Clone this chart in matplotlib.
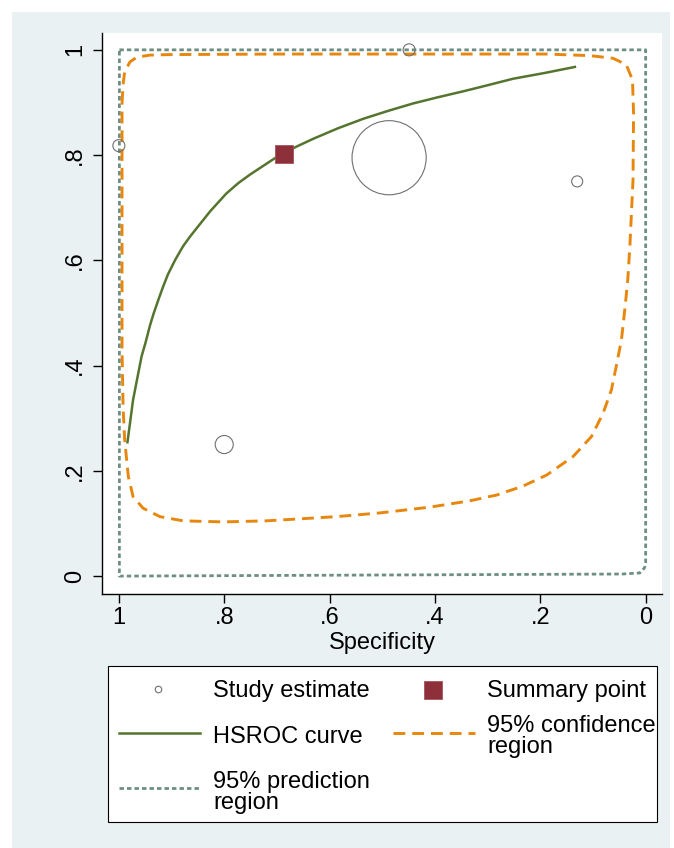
import matplotlib
matplotlib.use("Agg")
import matplotlib.pyplot as plt
from matplotlib.patches import Rectangle
from matplotlib.lines import Line2D

plt.rcParams['font.family'] = ['Liberation Sans', 'DejaVu Sans']
plt.rcParams['lines.scale_dashes'] = False

# ---------------- data ----------------
study_spec = [0.449, 1.000, 0.487, 0.130, 0.800]
study_sens = [1.000, 0.818, 0.795, 0.750, 0.250]
study_weight = [1.0, 1.0, 38.0, 0.84, 2.25]

summary_spec = [0.687]
summary_sens = [0.802]

hsroc_spec = [0.984, 0.973, 0.965, 0.957, 0.949, 0.941, 0.934, 0.925, 0.916,
              0.907, 0.893, 0.878, 0.865, 0.846, 0.826, 0.796, 0.773, 0.751,
              0.701, 0.663, 0.631, 0.584, 0.536, 0.489, 0.442, 0.394, 0.347,
              0.299, 0.252, 0.192, 0.132]
hsroc_sens = [0.252, 0.335, 0.376, 0.417, 0.445, 0.476, 0.499, 0.525, 0.550,
              0.573, 0.601, 0.627, 0.645, 0.669, 0.694, 0.727, 0.747, 0.763,
              0.796, 0.816, 0.831, 0.851, 0.869, 0.884, 0.898, 0.910, 0.921,
              0.933, 0.945, 0.956, 0.968]

conf_spec = [0.994, 0.992, 0.989, 0.979, 0.966, 0.941, 0.903, 0.695, 0.378, 0.188,
             0.106, 0.062, 0.037, 0.025, 0.023, 0.024, 0.027, 0.030, 0.034, 0.039,
             0.046, 0.056, 0.065, 0.081, 0.103, 0.138, 0.188, 0.233, 0.283, 0.334,
             0.410, 0.505, 0.587, 0.720, 0.802, 0.878, 0.922, 0.954, 0.973, 0.982,
             0.989, 0.992, 0.994, 0.994, 0.994, 0.994]
conf_sens = [0.899, 0.934, 0.958, 0.977, 0.986, 0.990, 0.991, 0.992, 0.992, 0.992,
             0.989, 0.984, 0.972, 0.943, 0.880, 0.753, 0.690, 0.626, 0.563, 0.512,
             0.449, 0.398, 0.354, 0.309, 0.265, 0.227, 0.192, 0.171, 0.154, 0.143,
             0.131, 0.120, 0.113, 0.105, 0.103, 0.105, 0.113, 0.129, 0.151, 0.189,
             0.259, 0.322, 0.430, 0.620, 0.810, 0.899]

pred_spec = [0.999, 0.000, 0.000, 0.002, 0.011, 0.044, 0.999, 0.999]
pred_sens = [1.000, 1.000, 0.025, 0.016, 0.006, 0.004, 0.000, 1.000]

tick_values = [1.0, 0.8, 0.6, 0.4, 0.2, 0.0]
tick_labels = ["1", ".8", ".6", ".4", ".2", "0"]

legend_labels = ["Study estimate", "Summary point", "HSROC curve",
                 "95% confidence\nregion", "95% prediction\nregion"]

# ---------------- styles ----------------
W, H = 674, 848
BG = "#EAF1F3"
GREEN = "#55752F"
ORANGE = "#E8870E"
TEAL = "#6E8E84"
CRAN = "#8E3039"
CIRC = "#707070"
FS = 17

fig = plt.figure(figsize=(W / 100, H / 100), dpi=100)
fig.patch.set_facecolor("white")
bg = Rectangle((12 / W, 0), (670 - 12) / W, (848 - 12) / H,
               transform=fig.transFigure, facecolor=BG, edgecolor="none")
bg.set_zorder(-10)
fig.patches.append(bg)

def px_axes(l, t, r, b):
    return [l / W, 1 - b / H, (r - l) / W, (b - t) / H]

ax = fig.add_axes(px_axes(102, 33, 662, 594))
ax.set_facecolor("white")
ax.set_xlim(1.032, -0.031)
ax.set_ylim(-0.034, 1.032)
for s in ["top", "right"]:
    ax.spines[s].set_visible(False)
for s in ["left", "bottom"]:
    ax.spines[s].set_linewidth(1.0)
    ax.spines[s].set_color("black")

pred_ls = (0, (3.2, 2.2))
conf_ls = (0, (8.5, 5.0))

ax.plot(pred_spec, pred_sens, color=TEAL, lw=2.0, linestyle=pred_ls, zorder=2)
ax.plot(conf_spec, conf_sens, color=ORANGE, lw=2.1, linestyle=conf_ls, zorder=3)
ax.plot(hsroc_spec, hsroc_sens, color=GREEN, lw=1.8, zorder=4,
        solid_capstyle="butt", solid_joinstyle="round")
ax.scatter(study_spec, study_sens, s=[75 * w for w in study_weight],
           facecolors="none", edgecolors=CIRC, linewidths=0.8, zorder=5)
ax.plot(summary_spec, summary_sens, marker="s", markersize=12.3, color=CRAN,
        markeredgecolor="#A4525A", markeredgewidth=0.6, linestyle="none", zorder=6)

ax.set_xticks(tick_values)
ax.set_xticklabels(tick_labels)
ax.set_yticks(tick_values)
ax.set_yticklabels(tick_labels, rotation=90, va="center")
ax.tick_params(axis="both", direction="out", length=6.5, width=1.0,
               labelsize=FS, colors="black")
ax.tick_params(axis="x", pad=3)
ax.tick_params(axis="y", pad=5)
ax.set_xlabel("Specificity", fontsize=FS, labelpad=2)

# ---------------- legend (pixel-space overlay) ----------------
lax = fig.add_axes([0, 0, 1, 1], facecolor="none")
lax.set_xlim(0, W)
lax.set_ylim(H, 0)
lax.axis("off")
lax.add_patch(Rectangle((108, 666), 657 - 108, 822 - 666, facecolor="white",
                        edgecolor="black", lw=0.8))

lax.scatter([158.5], [689.5], s=22, facecolors="none", edgecolors=CIRC,
            linewidths=0.8, zorder=5)
lax.plot([433.3], [689.5], marker="s", markersize=12.3, color=CRAN,
         markeredgecolor="#A4525A", markeredgewidth=0.6)
lax.add_line(Line2D([119, 200], [733, 733], color=GREEN, lw=1.8))
lax.add_line(Line2D([393, 475], [733, 733], color=ORANGE, lw=2.1, linestyle=conf_ls))
lax.add_line(Line2D([119, 200], [788, 788], color=TEAL, lw=2.0, linestyle=pred_ls))

tx = [213, 487, 213, 487, 213]
ty = [691.5, 691.5, 737, 736.5, 792.5]
for x, y, lab in zip(tx, ty, legend_labels):
    lax.text(x, y, lab, fontsize=FS, ha="left", va="center", linespacing=0.95)

fig.savefig("out.png", dpi=100, facecolor=fig.get_facecolor())
